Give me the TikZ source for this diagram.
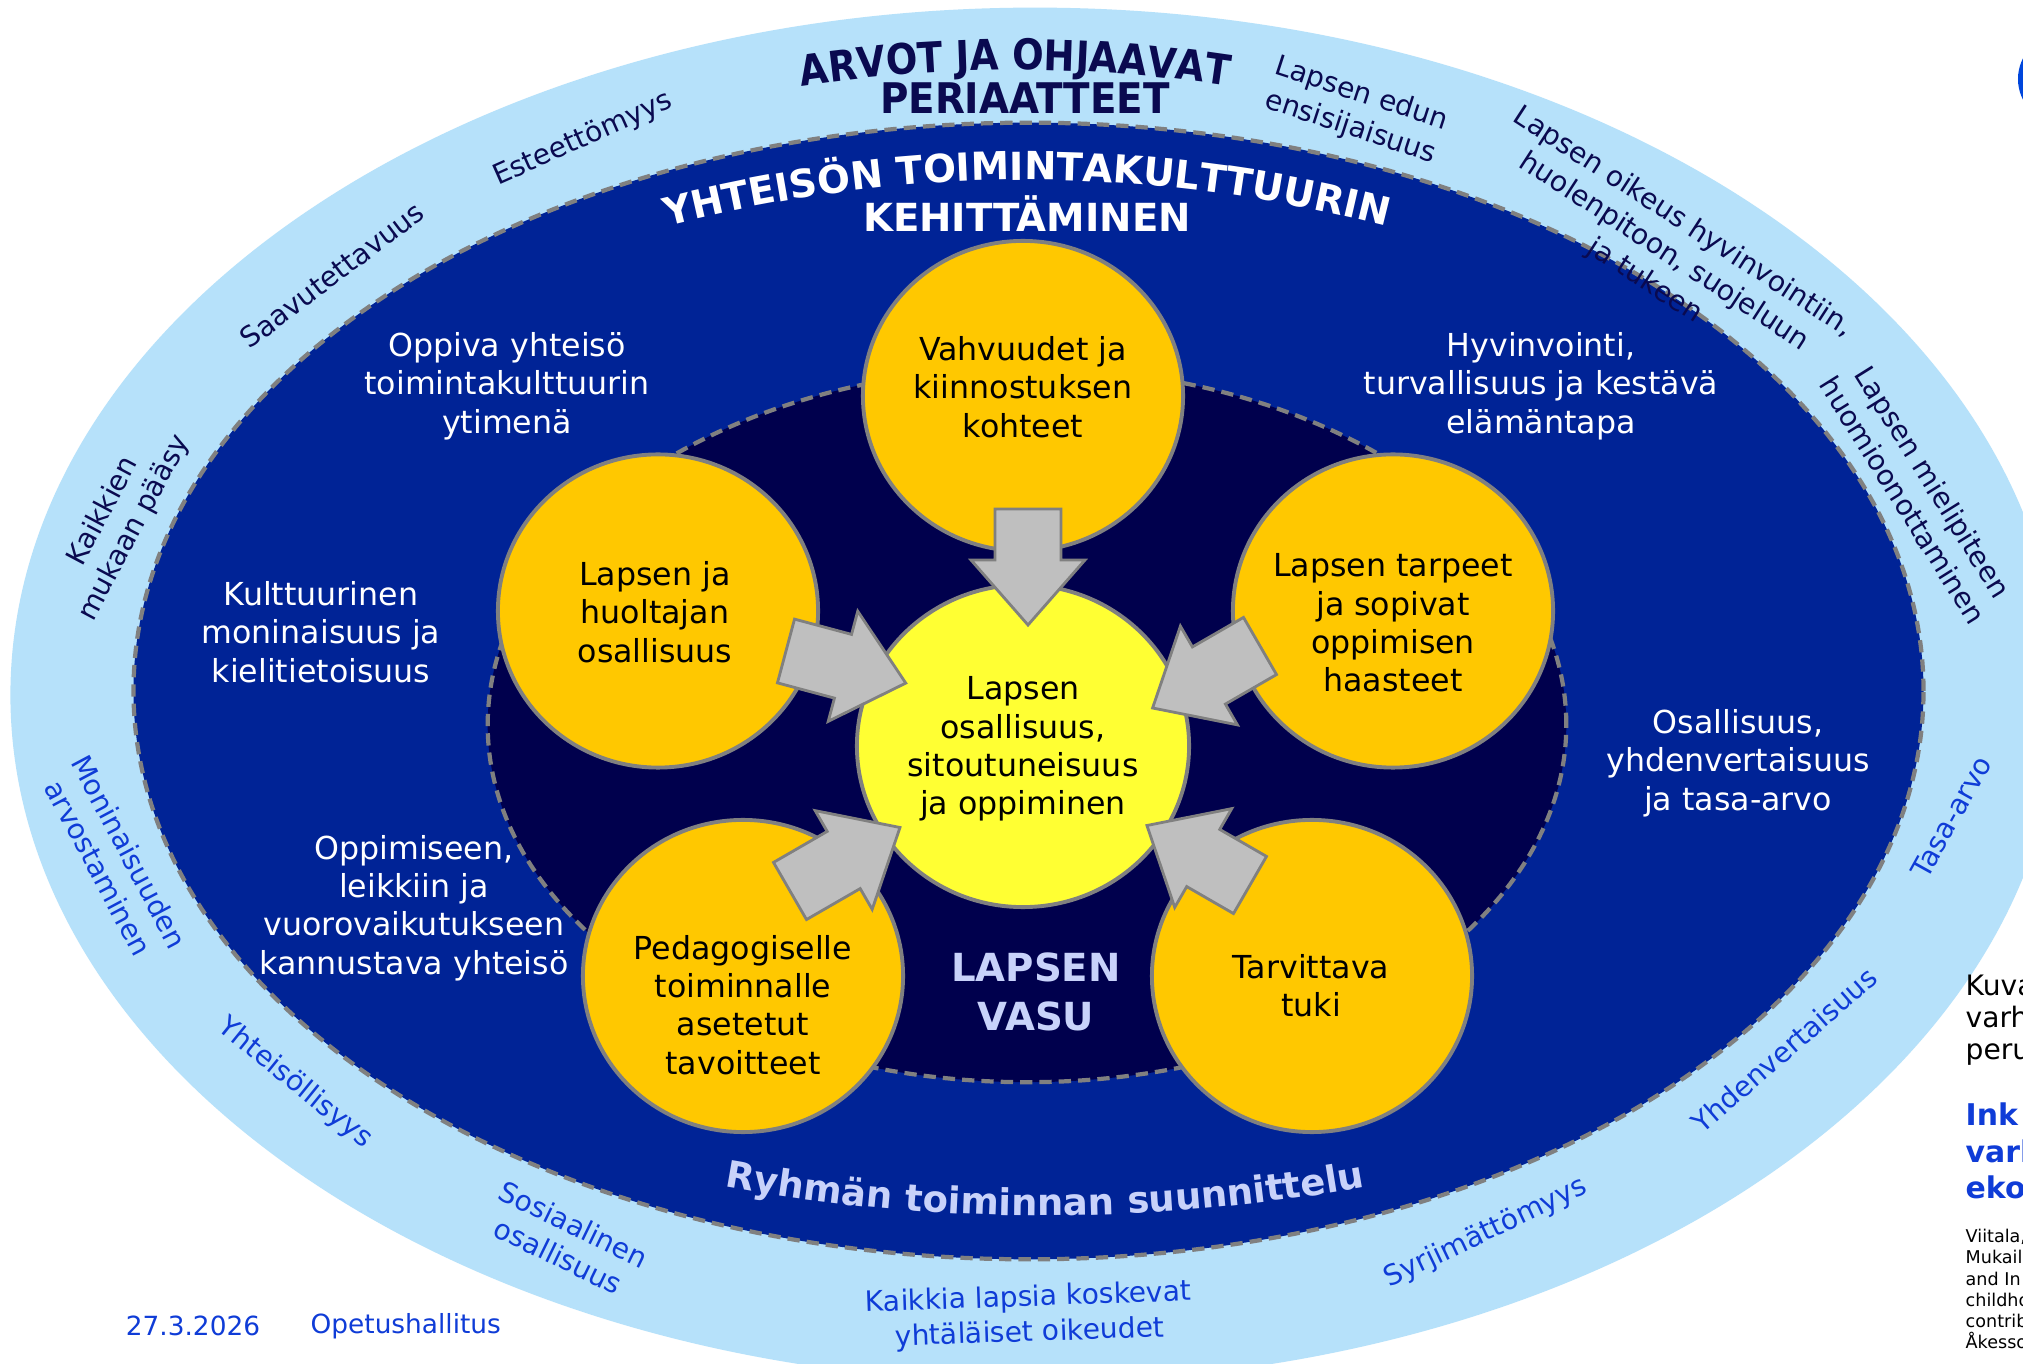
\documentclass[tikz,border=0pt]{standalone}
\usepackage{fontspec}
\setmainfont{DejaVu Sans}
\newfontfamily\wafont{DejaVu Sans}[FakeStretch=0.88]
\newfontfamily\wbfont{DejaVu Sans}[FakeStretch=0.92]
\usetikzlibrary{decorations.text,shapes.geometric}
\definecolor{lightring}{RGB}{182,225,250}
\definecolor{midblue}{RGB}{0,35,150}
\definecolor{navy}{RGB}{0,0,77}
\definecolor{orangec}{RGB}{255,200,0}
\definecolor{yellowc}{RGB}{255,255,51}
\definecolor{bordergray}{RGB}{128,128,128}
\definecolor{arrowgray}{RGB}{191,191,191}
\definecolor{navytext}{RGB}{10,10,80}
\definecolor{bluetext}{RGB}{15,60,215}
\definecolor{lavender}{RGB}{200,210,250}
\definecolor{logoblue}{RGB}{0,70,220}
\begin{document}
\begin{tikzpicture}[x=0.01cm,y=-0.01cm,
  ringdash/.style={draw=bordergray, line width=1.2pt, dash pattern=on 3.5pt off 2pt},
  bubble/.style={ellipse, draw=bordergray, line width=1.1pt, fill=orangec, inner sep=0pt},
  arrowstyle/.style={draw=bordergray, line width=0.8pt, fill=arrowgray, line join=miter},
  intext/.style={align=center, inner sep=0pt, font=\fontsize{9}{10.9}\selectfont},
  whitetext/.style={intext, text=white},
  blacktext/.style={intext, text=black},
  ringtext/.style={align=center, inner sep=0pt, font=\fontsize{8}{10}\selectfont},
  toplabel/.style={ringtext, text=navytext},
  botlabel/.style={ringtext, text=bluetext},
  blockarrow/.pic={\path[arrowstyle] (0,-33) -- ({#1-65},-33) -- ({#1-65},-57) -- (#1,0) -- ({#1-65},57) -- ({#1-65},33) -- (0,33) -- cycle;}
]
\path[use as bounding box] (0,0) rectangle (2023,1364);
\clip (0,0) rectangle (2023,1364);
\fill[white] (0,0) rectangle (2023,1364);
% rings
\fill[lightring] (1035,695) ellipse [x radius=10.24cm, y radius=6.87cm];
\path[fill=midblue, ringdash] (1028.5,691) ellipse [x radius=8.945cm, y radius=5.68cm];
\path[fill=navy, ringdash] (1027,725) ellipse [x radius=5.39cm, y radius=3.57cm];
\fill[logoblue] (2063,79) circle [radius=0.45cm];
% bubbles
\node[bubble, minimum width=3.2cm, minimum height=3.1cm] (cTop) at (1023,396) {};
\node[bubble, minimum width=3.2cm, minimum height=3.13cm] (cUL) at (658,611) {};
\node[bubble, minimum width=3.2cm, minimum height=3.13cm] (cUR) at (1393,611) {};
\node[bubble, minimum width=3.2cm, minimum height=3.12cm] (cLL) at (743,976) {};
\node[bubble, minimum width=3.2cm, minimum height=3.12cm] (cLR) at (1312,976) {};
\node[bubble, fill=yellowc, minimum width=3.32cm, minimum height=3.22cm] (cMid) at (1023,746) {};
% arrows
\coordinate (aTop) at (1028,509);
\coordinate (aUL) at (786,651);
\coordinate (aUR) at (1260,646);
\coordinate (aLL) at (790,891);
\coordinate (aLR) at (1250,885);
\pic[rotate=-90] at (aTop) {blockarrow=116};
\pic[rotate=-15] at (aUL) {blockarrow=124};
\pic[rotate=210] at (aUR) {blockarrow=124};
\pic[rotate=30] at (aLL) {blockarrow=127};
\pic[rotate=150] at (aLR) {blockarrow=119};
% bubble texts
\node[blacktext] (tVahv) at (1023,387) {Vahvuudet ja\\kiinnostuksen\\kohteet};
\node[blacktext] (tHuol) at (655,612) {Lapsen ja\\huoltajan\\osallisuus};
\node[blacktext] (tTarp) at (1393,623) {Lapsen tarpeet\\ja sopivat\\oppimisen\\haasteet};
\node[blacktext] (tCent) at (1023,749) {Lapsen\\osallisuus,\\sitoutuneisuus\\ja oppiminen};
\node[blacktext] (tPeda) at (743,1005) {Pedagogiselle\\toiminnalle\\asetetut\\tavoitteet};
\node[blacktext] (tTuki) at (1311,986) {Tarvittava\\tuki};
% white texts
\node[whitetext] (wOpp) at (507,386) {Oppiva yhteisö\\toimintakulttuurin\\ytimenä};
\node[whitetext] (wKult) at (321,632) {Kulttuurinen\\moninaisuus ja\\kielitietoisuus};
\node[whitetext] (wLeik) at (414,908) {Oppimiseen,\\leikkiin ja\\vuorovaikutukseen\\kannustava yhteisö};
\node[whitetext] (wHyv) at (1541,386) {Hyvinvointi,\\turvallisuus ja kestävä\\elämäntapa};
\node[whitetext] (wOsa) at (1738,763) {Osallisuus,\\yhdenvertaisuus\\ja tasa-arvo};
% centre title
\node[font=\bfseries\fontsize{11}{13.7}\selectfont, text=lavender, align=center, inner sep=0pt] (vasu) at (1036,992) {LAPSEN\\VASU};
% arched titles (quadratic arcs written as cubic curves)
\path[decorate, decoration={text along path, text align=center, text={|\wafont\bfseries\fontsize{12}{12}\selectfont\color{navytext}|ARVOT JA OHJAAVAT}}] (755,94) .. controls (928,62) and (1102,62) .. (1275,94);
\node[font=\wbfont\bfseries\fontsize{12}{12}\selectfont, text=navytext, anchor=base, inner sep=0pt] (peri) at (1025,114) {PERIAATTEET};
\path[decorate, decoration={text along path, text align=center, text={|\bfseries\fontsize{11}{11}\selectfont\color{white}|YHTEISÖN TOIMINTAKULTTUURIN}}] (607,243) .. controls (887,159) and (1167,159) .. (1447,243);
\node[font=\bfseries\fontsize{11}{11}\selectfont, text=white, anchor=base, inner sep=0pt] (kehi) at (1027,232) {KEHITTÄMINEN};
\path[decorate, decoration={text along path, text align=center, text={|\bfseries\fontsize{10.5}{10.5}\selectfont\color{lavender}|Ryhmän toiminnan suunnittelu}}] (655,1173) .. controls (915,1230) and (1175,1230) .. (1435,1173);
% ring labels
\node[toplabel, rotate=24] (rEst) at (583,139) {Esteettömyys};
\node[toplabel, rotate=37] (rSaa) at (332,275) {Saavutettavuus};
\node[toplabel, rotate=62] (rKai) at (119,520) {Kaikkien\\mukaan pääsy};
\node[toplabel, rotate=-18] (rEdu) at (1356,111) {Lapsen edun\\ensisijaisuus};
\node[toplabel, rotate=-33] (rOik) at (1664,252) {Lapsen oikeus hyvinvointiin,\\huolenpitoon, suojeluun\\ja tukeen};
\node[toplabel, rotate=-58] (rMie) at (1918,491) {Lapsen mielipiteen\\huomioonottaminen};
\node[botlabel, rotate=-62] (rMon) at (114,860) {Moninaisuuden\\arvostaminen};
\node[botlabel, rotate=-39] (rYht) at (295,1083) {Yhteisöllisyys};
\node[botlabel, rotate=-26] (rSos) at (566,1240) {Sosiaalinen\\osallisuus};
\node[botlabel, rotate=2] (rKaik) at (1029,1316) {Kaikkia lapsia koskevat\\yhtäläiset oikeudet};
\node[botlabel, rotate=25.5] (rSyr) at (1486,1233) {Syrjimättömyys};
\node[botlabel, rotate=41] (rYhd) at (1784,1050) {Yhdenvertaisuus};
\node[botlabel, rotate=61] (rTas) at (1951,817) {Tasa-arvo};
% footer
\node[font=\fontsize{7.5}{9}\selectfont, text=bluetext, inner sep=0pt] (date) at (193,1326) {27.3.2026};
\node[font=\fontsize{7.5}{9}\selectfont, text=bluetext, inner sep=0pt, anchor=west] (oph) at (310,1326) {Opetushallitus};
% right margin (cut off by the page edge)
\node[anchor=west, align=left, inner sep=0pt, font=\fontsize{8}{9.1}\selectfont] (kuva) at (1965,1020) {Kuva\\varh\\peru};
\node[anchor=west, align=left, inner sep=0pt, text=bluetext, font=\bfseries\fontsize{8.5}{10.3}\selectfont] (ink) at (1965,1151) {Ink\\varh\\eko};
\node[anchor=west, align=left, inner sep=0pt, font=\fontsize{5}{6}\selectfont] (src) at (1965,1289) {Viitala,\\Mukail\\and In\\childho\\contrib\\Åkesso};
\end{tikzpicture}
\end{document}
